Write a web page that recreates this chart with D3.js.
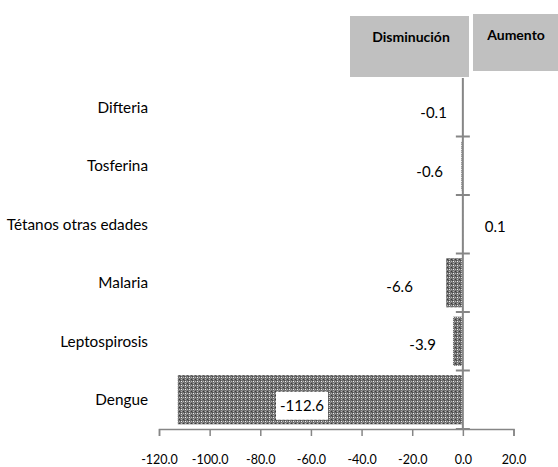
<!DOCTYPE html>
<html lang="es">
<head>
    <meta charset="UTF-8">
    <title>Disminución / Aumento</title>
    <script src="https://d3js.org/d3.v7.min.js"></script>
    <style>
        body { margin: 0; background: #fff; }
        svg { font-family: Lato, "Open Sans", sans-serif; }
    </style>
</head>
<body>
    <svg width="558" height="467"></svg>

    <script>
        // data
        const categories = ["Difteria", "Tosferina", "Tétanos otras edades", "Malaria", "Leptospirosis", "Dengue"];
        const values = [-0.1, -0.6, 0.1, -6.6, -3.9, -112.6];
        const xTicks = [-120, -100, -80, -60, -40, -20, 0, 20];
        const headers = ["Disminución", "Aumento"];

        const svg = d3.select("svg");

        // plain hyphen for negatives, like the original
        const loc = d3.formatLocale({ decimal: ".", thousands: ",", grouping: [3], currency: ["", ""], minus: "-" });
        const fmt = loc.format(".1f");

        const x = d3.scaleLinear()
            .domain([-120, 20])
            .range([159, 513.5]);

        const y = d3.scaleBand()
            .domain(categories)
            .range([78, 429])
            .paddingInner(0.16)
            .paddingOuter(0.08);

        // crosshatch fill like the excel pattern
        const defs = svg.append("defs");
        const pat = defs.append("pattern")
            .attr("id", "hatch")
            .attr("patternUnits", "userSpaceOnUse")
            .attr("width", 4)
            .attr("height", 4);
        pat.append("rect").attr("width", 4).attr("height", 4).attr("fill", "#6e6e6e");
        [[1, 1, "#f0f0f0"], [3, 3, "#3a3a3a"], [3, 1, "#b4b4b4"], [1, 3, "#b4b4b4"], [0, 0, "#4a4a4a"], [2, 2, "#8c8c8c"]]
            .forEach(([px, py, c]) => {
                pat.append("rect").attr("x", px).attr("y", py).attr("width", 1).attr("height", 1).attr("fill", c);
            });

        // header boxes
        svg.append("rect")
            .attr("x", 350).attr("y", 16).attr("width", 119).attr("height", 61)
            .attr("fill", "#c0c0c0");
        svg.append("rect")
            .attr("x", 473).attr("y", 14).attr("width", 85).attr("height", 57)
            .attr("fill", "#c0c0c0");
        svg.append("text")
            .attr("x", 411).attr("y", 42)
            .attr("text-anchor", "middle")
            .attr("font-size", 14).attr("font-weight", "bold")
            .text(headers[0]);
        svg.append("text")
            .attr("x", 516).attr("y", 40)
            .attr("text-anchor", "middle")
            .attr("font-size", 14).attr("font-weight", "bold")
            .text(headers[1]);

        // bars
        svg.append("g")
            .selectAll("rect")
            .data(values)
            .join("rect")
            .attr("x", d => x(Math.min(0, d)))
            .attr("y", (d, i) => y(categories[i]))
            .attr("width", d => Math.abs(x(d) - x(0)))
            .attr("height", y.bandwidth())
            .attr("fill", "url(#hatch)");

        // x axis
        const xAxis = svg.append("g")
            .attr("transform", "translate(0,429)")
            .call(d3.axisBottom(x).tickValues(xTicks).tickFormat(fmt).tickSizeOuter(0).tickSize(7));
        xAxis.select(".domain").attr("stroke", "#868686").attr("stroke-width", 1.5);
        xAxis.selectAll(".tick line").attr("stroke", "#868686").attr("stroke-width", 1.5);
        xAxis.selectAll(".tick text")
            .attr("font-family", "Lato, sans-serif")
            .attr("font-size", 12.5)
            .attr("fill", "#000")
            .attr("dy", 0)
            .attr("y", 35);

        // vertical axis at zero with ticks across it on band edges
        svg.append("line")
            .attr("x1", x(0)).attr("x2", x(0))
            .attr("y1", 78).attr("y2", 429)
            .attr("stroke", "#868686").attr("stroke-width", 2);
        const edges = d3.range(1, categories.length + 1).map(i => 78 + i * (351 / categories.length));
        svg.append("g")
            .selectAll("line")
            .data(edges)
            .join("line")
            .attr("x1", x(0) - 7).attr("x2", x(0) + 7)
            .attr("y1", d => d).attr("y2", d => d)
            .attr("stroke", "#868686").attr("stroke-width", 2);

        // category labels
        svg.append("g")
            .selectAll("text")
            .data(categories)
            .join("text")
            .attr("x", 148)
            .attr("y", d => y(d) + y.bandwidth() / 2)
            .attr("dy", "0.35em")
            .attr("text-anchor", "end")
            .attr("font-size", 15.3)
            .text(d => d);

        // value labels (placement copied from the excel layout)
        const labelDx = [-16, -20, 22, -50, -27, null];
        const labelDy = [5, 6, 2, 4, 3, 6];
        values.forEach((v, i) => {
            const cy = y(categories[i]) + y.bandwidth() / 2 + labelDy[i];
            if (labelDx[i] === null) {
                const cx = 302;
                svg.append("rect")
                    .attr("x", cx - 26).attr("y", cy - 14)
                    .attr("width", 52).attr("height", 28)
                    .attr("fill", "#fff");
                svg.append("text")
                    .attr("x", cx).attr("y", cy)
                    .attr("dy", "0.35em")
                    .attr("text-anchor", "middle")
                    .attr("font-size", 15)
                    .text(fmt(v));
            } else {
                svg.append("text")
                    .attr("x", x(0) + labelDx[i]).attr("y", cy)
                    .attr("dy", "0.35em")
                    .attr("text-anchor", v < 0 ? "end" : "start")
                    .attr("font-size", 15)
                    .text(fmt(v));
            }
        });
    </script>
</body>
</html>
